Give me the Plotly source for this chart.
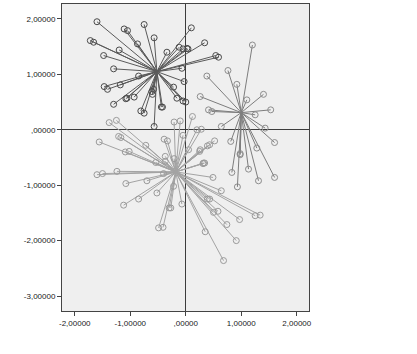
import plotly.graph_objects as go

# Cluster centroids
centroid_x = [-0.52, 1.00, -0.18]
centroid_y = [1.05, 0.31, -0.76]

# Cluster 1 (upper left)
c1_x = [-1.60, -1.11, -1.05, -0.75, -0.57, -1.72, -1.66, -0.87, -1.20, -1.48, -1.30,
        -0.34, 0.10, 0.34, -0.12, -0.05, 0.04, 0.54, 0.59, 0.02, -0.07, -0.03,
        -0.85, -1.18, -1.47, -1.41, -1.08, -1.06, -0.93, -1.30, -0.58, -0.61, -0.60,
        -0.22, -0.16, -0.05, 0.00, -0.44, -0.42, -0.81, -0.75, -0.57]
c1_y = [1.95, 1.82, 1.79, 1.90, 1.66, 1.61, 1.58, 1.55, 1.44, 1.34, 1.10,
        1.40, 1.84, 1.57, 1.49, 1.46, 1.46, 1.34, 1.31, 1.47, 1.11, 0.87,
        0.97, 0.81, 0.78, 0.73, 0.56, 0.57, 0.59, 0.46, 0.73, 0.69, 0.64,
        0.77, 0.57, 0.52, 0.50, 0.41, 0.41, 0.34, 0.30, 0.06]

# Cluster 2 (right)
c2_x = [1.20, 0.76, 0.38, 0.92, 0.26, 1.40, 1.10, 0.41, 0.47, 1.53, 1.25, 0.64,
        1.43, 1.60, 0.81, 0.98, 1.28, 0.83, 0.93, 1.13, 1.31, 1.60, 0.98]
c2_y = [1.53, 1.07, 0.97, 0.82, 0.60, 0.64, 0.54, 0.36, 0.33, 0.36, 0.27, 0.06,
        0.03, -0.23, -0.21, -0.45, -0.33, -0.77, -1.03, -0.71, -0.92, -0.86, -0.43]

# Cluster 3 (lower middle)
c3_x = [-1.38, -1.25, -0.21, -0.10, 0.12, 0.20, 0.28, -1.21, -1.17, -1.56, -0.72,
        -0.39, -0.33, -0.05, -1.09, -1.02, -0.37, 0.05, 0.25, 0.39, 0.31, -1.60,
        -1.50, -1.24, -0.40, -1.08, -0.70, -0.52, -0.85, -1.12, -0.30, -0.27, -0.22,
        -0.07, -0.49, -0.41, -0.54, -0.37, -0.21, 0.35, 0.39, 0.32, 0.52, 0.43,
        0.34, 0.49, 0.64, 0.43, 0.58, 0.50, 0.97, 1.25, 1.34, 0.74, 0.91, 0.68, 0.26]
c3_y = [0.13, 0.17, 0.14, 0.16, 0.24, 0.00, 0.01, -0.12, -0.14, -0.22, -0.28,
        -0.17, -0.20, -0.10, -0.40, -0.39, -0.48, -0.36, -0.39, -0.29, -0.61, -0.81,
        -0.79, -0.75, -0.79, -0.97, -0.92, -1.14, -1.25, -1.36, -1.41, -1.41, -1.02,
        -1.34, -1.77, -1.76, -0.59, -0.57, -0.52, -1.84, -1.25, -0.60, -0.20, -0.27,
        -0.60, -0.86, -1.10, -1.25, -1.47, -1.49, -1.62, -1.55, -1.54, -1.71, -2.00, -2.36, -0.36]

cluster_x = [c1_x, c2_x, c3_x]
cluster_y = [c1_y, c2_y, c3_y]
cluster_line_colors = ["#5a5a5a", "#7d7d7d", "#a3a3a3"]
cluster_marker_colors = ["#4a4a4a", "#8c8c8c", "#9a9a9a"]

# Axis ticks
x_tickvals = [-2, -1, 0, 1, 2]
x_ticktext = ["-2,00000", "-1,00000", ",00000", "1,00000", "2,00000"]
y_tickvals = [2, 1, 0, -1, -2, -3]
y_ticktext = ["2,00000", "1,00000", ",00000", "-1,00000", "-2,00000", "-3,00000"]

fig = go.Figure()

# draw lighter cluster first so darker ones on top
for k in [2, 1, 0]:
    cx, cy = centroid_x[k], centroid_y[k]
    lx, ly = [], []
    for px, py in zip(cluster_x[k], cluster_y[k]):
        lx += [cx, px, None]
        ly += [cy, py, None]
    fig.add_trace(go.Scatter(x=lx, y=ly, mode="lines",
                             line=dict(color=cluster_line_colors[k], width=1),
                             hoverinfo="skip", showlegend=False))
    fig.add_trace(go.Scatter(x=cluster_x[k], y=cluster_y[k], mode="markers",
                             marker=dict(symbol="circle-open", size=6,
                                         color=cluster_marker_colors[k],
                                         line=dict(width=1)),
                             showlegend=False))

axis_common = dict(showgrid=False, zeroline=True, zerolinecolor="#3c3c3c",
                   zerolinewidth=1, showline=True, linecolor="#444444", linewidth=1,
                   mirror=True, ticks="outside", ticklen=4, tickcolor="#444444",
                   tickfont=dict(family="Arial, Liberation Sans", size=8, color="#222222"))

fig.update_layout(
    width=417, height=354,
    margin=dict(l=62, r=108, t=4, b=43),
    paper_bgcolor="white", plot_bgcolor="#efefef",
    xaxis=dict(range=[-2.23, 2.22], tickvals=x_tickvals, ticktext=x_ticktext, **axis_common),
    yaxis=dict(range=[-3.27, 2.27], tickvals=y_tickvals, ticktext=y_ticktext, **axis_common),
    showlegend=False,
)

fig.write_html("out.html")
